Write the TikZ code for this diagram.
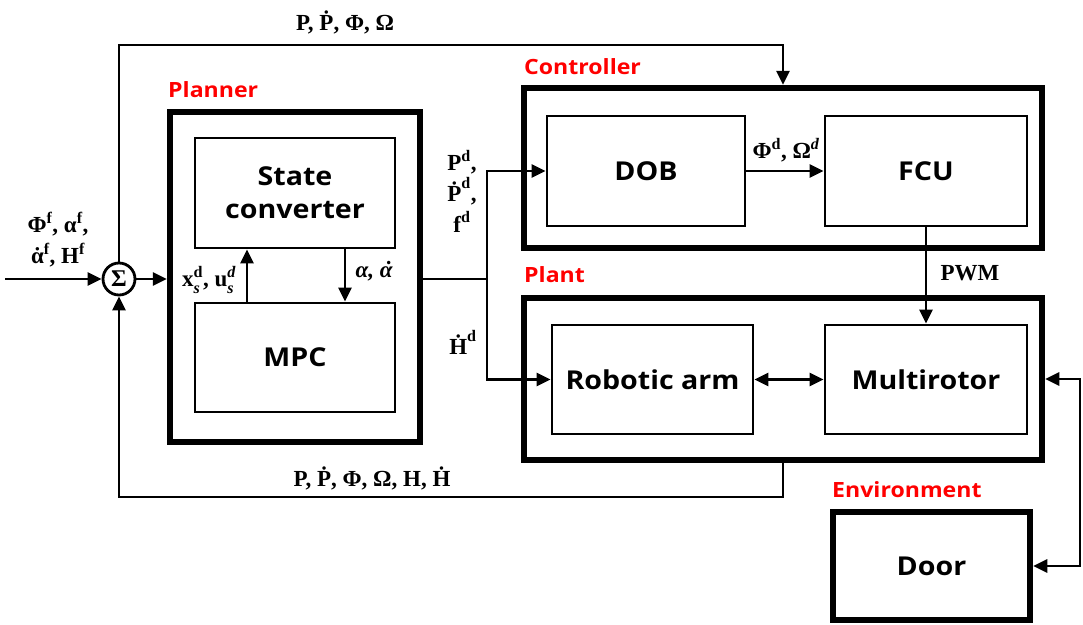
\documentclass[tikz,border=0pt]{standalone}
\usepackage{amsmath}
\usepackage{fontspec}
\setmainfont{Liberation Serif}
\newfontfamily\boxfont[FakeStretch=1.1]{Open Sans}
\usetikzlibrary{arrows.meta}
\newcommand\tb[1]{\text{\bfseries #1}}
\newcommand\tbi[1]{\text{\bfseries\itshape #1}}
\newcommand\adot{{\ooalign{α\cr\hidewidth˙\hidewidth\cr}}}
\newcommand\aidot{{\ooalign{α\cr\hidewidth\kern0.12em˙\hidewidth\cr}}}
\begin{document}
\begin{tikzpicture}[x=1pt,y=-1pt,
  outer/.style={draw, line width=6.5pt, inner sep=0pt},
  inner/.style={draw, line width=2.8pt, inner sep=0pt, align=center,
    font=\boxfont\bfseries\fontsize{26}{33}\selectfont},
  redlab/.style={text=red, font=\boxfont\bfseries\fontsize{21}{24}\selectfont, anchor=west, inner sep=0pt},
  lab/.style={font=\bfseries\fontsize{23}{31}\selectfont, inner sep=0pt, align=center},
  conn/.style={line width=2.8pt},
  arr/.style={conn, -{Triangle[length=14pt,width=13pt]}},
  darr/.style={conn, {Triangle[length=14pt,width=13pt]}-{Triangle[length=14pt,width=13pt]}}]
\useasboundingbox (0,0) rectangle (1083,624);
% frames
\node[outer, minimum width=250pt, minimum height=330pt] (planner) at (295,277) {};
\node[outer, minimum width=518pt, minimum height=160pt] (ctrl) at (783,168) {};
\node[outer, minimum width=518pt, minimum height=162pt] (plant) at (783,379) {};
% blocks
\node[inner, minimum width=200pt, minimum height=110pt] (sc) at (295,193) {State\\converter};
\node[inner, minimum width=200pt, minimum height=109pt] (mpc) at (295,357.5) {MPC};
\node[inner, minimum width=198pt, minimum height=110pt] (dob) at (646,171) {DOB};
\node[inner, minimum width=202pt, minimum height=110pt] (fcu) at (926,171) {FCU};
\node[inner, minimum width=201pt, minimum height=109pt] (arm) at (652.5,379.5) {Robotic arm};
\node[inner, minimum width=202pt, minimum height=109pt] (multi) at (926,379.5) {Multirotor};
\node[inner, line width=6.5pt, minimum width=197pt, minimum height=108pt] (door) at (931.5,566) {Door};
\node[draw, circle, line width=2.8pt, minimum size=32pt, inner sep=0pt,
  font=\bfseries\fontsize{24}{26}\selectfont] (sum) at (119,279) {Σ};
% red titles
\node[redlab] (tpl) at (168,90) {Planner};
\node[redlab] (tct) at (524,67) {Controller};
\node[redlab] (tpn) at (524,275) {Plant};
\node[redlab] (ten) at (832,490) {Environment};
% coordinates
\coordinate (in) at (5,279);
\coordinate (t1) at (119,45);
\coordinate (b1) at (783,497);
\coordinate (j) at (487,279);
\coordinate (r1) at (1080,379);
\coordinate (r2) at (1080,566);
% connectors
\draw[arr] (in) -- (sum.west);
\draw[arr] (sum.east) -- (sum.east -| planner.west);
\draw[arr] (sum.north) -- (t1) -| (ctrl.north);
\draw[arr] (plant.south) -- (b1) -| (sum.south);
\draw[conn] (j -| planner.east) -- (j);
\draw[arr] (j) |- (dob.west);
\draw[arr] (j) |- (arm.west);
\draw[arr] ([xshift=-48pt]mpc.north) -- ([xshift=-48pt]sc.south);
\draw[arr] ([xshift=50pt]sc.south) -- ([xshift=50pt]mpc.north);
\draw[arr] (dob) -- (fcu);
\draw[arr] (fcu.south) -- (multi.north);
\draw[darr] (arm) -- (multi);
\draw[darr] (plant.east) -- (r1) -- (r2) -- (door.east);
% labels
\node[lab] (l1) at (58,240) {$\tb{Φ}^{\tb{f}}$, $\tb{α}^{\tb{f}}$,\\$\tb{\adot}^{\tb{f}}$, $\tb{H}^{\tb{f}}$};
\node[lab] (l2) at (209,280) {$\tb{x}^{\tb{d}}_{\tbi{s}}$, $\tb{u}^{\tbi{d}}_{\tbi{s}}$};
\node[lab] (l3) at (374,274) {\itshape α, \aidot};
\node[lab] (l4) at (462,191) {$\tb{P}^{\tb{d}}$,\\$\tb{Ṗ}^{\tb{d}}$,\\$\tb{f}^{\tb{d}}$};
\node[lab] (l5) at (463,342) {$\tb{Ḣ}^{\tb{d}}$};
\node[lab] (l6) at (786,150) {$\tb{Φ}^{\tb{d}}$, $\tb{Ω}^{\tbi{d}}$};
\node[lab] (l7) at (970,273) {PWM};
\node[lab] (l8) at (345,22) {P, Ṗ, Φ, Ω};
\node[lab] (l9) at (372,478) {P, Ṗ, Φ, Ω, H, Ḣ};
\end{tikzpicture}
\end{document}
